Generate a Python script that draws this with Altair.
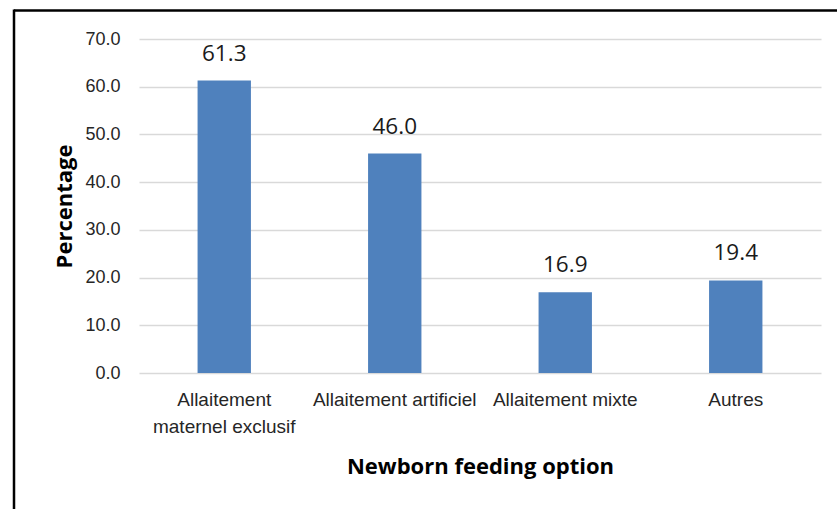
import altair as alt
import pandas as pd

# Newborn feeding options and their share (%)
categories = ["Allaitement\nmaternel exclusif", "Allaitement artificiel", "Allaitement mixte", "Autres"]
percentages = [61.3, 46.0, 16.9, 19.4]
y_ticks = [0, 10, 20, 30, 40, 50, 60, 70]

df = pd.DataFrame({"option": categories, "pct": percentages})

BAR_BLUE = "#4F81BD"
GRID = "#D9D9D9"
TICK_FONT = "Liberation Sans"

x_enc = alt.X(
    "option:N",
    sort=categories,
    scale=alt.Scale(paddingInner=0.687, paddingOuter=0.3435),
    axis=alt.Axis(
        title="Newborn feeding option",
        labelAngle=0,
        labelExpr="split(datum.label, '\\n')",
        labelFont=TICK_FONT,
        labelFontSize=19,
        labelColor="#262626",
        labelLineHeight=27,
        labelPadding=17,
        labelLimit=300,
        ticks=False,
        domain=False,
        titleFont="Open Sans",
        titleFontWeight="bold",
        titleFontSize=22,
        titleColor="#000000",
        titlePadding=20,
    ),
)

y_enc = alt.Y(
    "pct:Q",
    scale=alt.Scale(domain=[0, 70], nice=False),
    axis=alt.Axis(
        title="Percentage",
        values=y_ticks,
        format=".1f",
        grid=True,
        gridColor=GRID,
        gridWidth=1.5,
        domain=False,
        ticks=False,
        labelFont=TICK_FONT,
        labelFontSize=18,
        labelColor="#262626",
        labelPadding=19,
        titleFont="Open Sans",
        titleFontWeight="bold",
        titleFontSize=22,
        titleColor="#000000",
        titlePadding=8,
    ),
)

bars = alt.Chart(df).mark_bar(color=BAR_BLUE).encode(x=x_enc, y=y_enc)

labels = alt.Chart(df).mark_text(
    font="Open Sans", fontSize=22.5, color="#1a1a1a", baseline="alphabetic", dy=-20
).encode(
    x=alt.X("option:N", sort=categories),
    y=alt.Y("pct:Q"),
    text=alt.Text("pct:Q", format=".1f"),
)

# frame lines along the top and left edges of the figure
frame = pd.DataFrame({"k": [0]})
top_edge = alt.Chart(frame).mark_rule(color="#000000", strokeWidth=2.5).encode(
    x=alt.value(-125), x2=alt.value(720), y=alt.value(-28.5)
)
left_edge = alt.Chart(frame).mark_rule(color="#000000", strokeWidth=2.5).encode(
    x=alt.value(-125), y=alt.value(-29.5), y2=alt.value(480)
)

chart = (
    alt.layer(bars, labels, top_edge, left_edge)
    .properties(
        width=682,
        height=334,
        padding={"left": 139, "top": 39, "right": 16, "bottom": 136},
        autosize=alt.AutoSizeParams(type="none"),
        background="#FFFFFF",
    )
    .configure_view(stroke=None)
)

chart.save("out.html", embed_options={"renderer": "svg", "actions": False})
